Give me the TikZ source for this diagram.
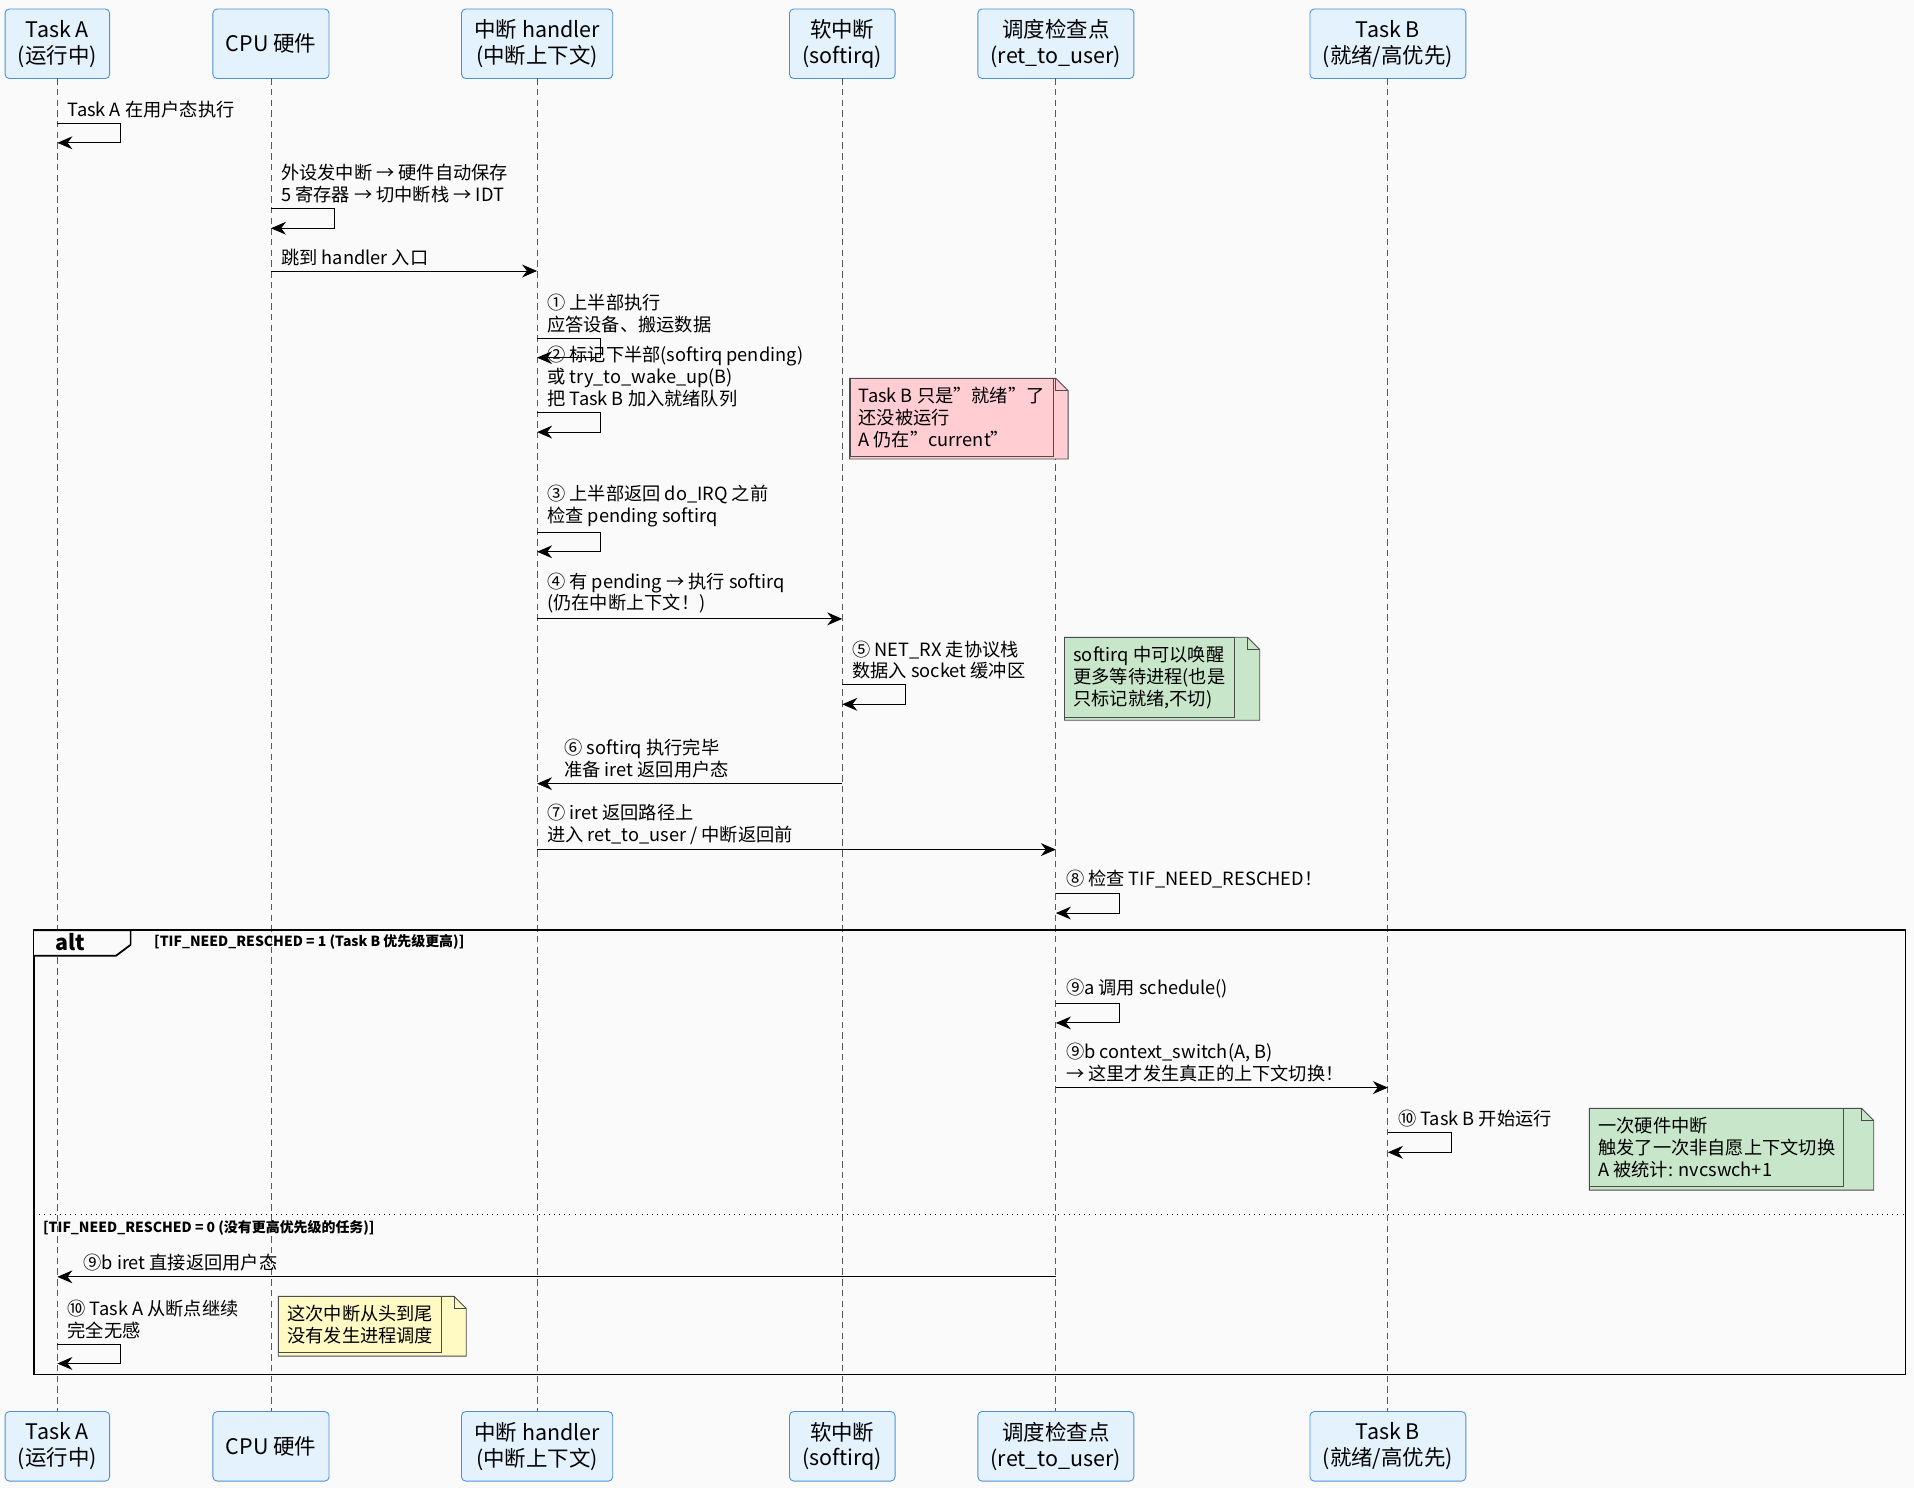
\documentclass[tikz,border=0pt]{standalone}
\usepackage{fontspec}
\setmainfont{Noto Sans CJK SC}
\usetikzlibrary{arrows.meta}
\usetikzlibrary{calc}
\usetikzlibrary{shapes.geometric}
\definecolor{bgc}{HTML}{FAFAFA}
\definecolor{boxc}{HTML}{E3F2FD}
\definecolor{boxd}{HTML}{4A90D9}
\definecolor{pinkn}{HTML}{FFCDD2}
\definecolor{greenn}{HTML}{C8E6C9}
\definecolor{yellown}{HTML}{FFF9C4}
\tikzset{
  part/.style={draw=boxd,fill=boxc,rounded corners=2pt,align=center,minimum height=57*0.02cm,inner xsep=6pt,font=\fontsize{10}{12}\selectfont},
  life/.style={dash pattern=on 3pt off 2pt,gray!70!black,thin},
  msg/.style={-{Stealth[length=7pt,width=6pt]},thin},
  lbl/.style={anchor=south west,inner sep=0pt,align=left},
  note/.style={draw=black!70,thin,anchor=north west,align=left,inner sep=4pt,
    font=\fontsize{8.5}{10.2}\selectfont},
  guard/.style={anchor=west,inner sep=0pt,font=\fontsize{6.5}{8}\selectfont\bfseries}
}
\newcommand*\selfmsg[2]{\draw[msg](#1|-0,#2)--++(52,0)--++(0,16)--++(-52,0);}
\newcommand*\notebox[6]{% name, x1, y1, x2, y2, colour
  \fill[#6](#2,#3)--(#4-10,#3)--(#4,#3+10)--(#4,#5)--(#2,#5)--cycle;
  \draw[black!70,thin](#2,#3)--(#4-10,#3)--(#4,#3+10)--(#4,#5)--(#2,#5)--cycle;
  \draw[black!70,thin](#4-10,#3)--(#4-10,#3+10)--(#4,#3+10);
  \coordinate(#1)at(#2,#3);}
\begin{document}
\begin{tikzpicture}[x=0.02cm,y=-0.02cm,font=\fontsize{8.5}{10.2}\selectfont]
  \fill[bgc](0,0)rectangle(1568,1219);
  \useasboundingbox(0,0)rectangle(1568,1219);
  % participants
  \foreach \n/\x/\t in {ta/47/{Task A\\(运行中)},cpu/222/{CPU 硬件},irq/440/{中断 handler\\(中断上下文)},
      sirq/690/{软中断\\(softirq)},chk/865/{调度检查点\\(ret\_to\_user)},tb/1137/{Task B\\(就绪/高优先)}}{
    \node[part,anchor=north](\n)at(\x,7){\t};
    \node[part,anchor=north](\n2)at(\x,1156){\t};
    \draw[life](\n|-0,64)--(\n2|-0,1156);
  }
  % messages
  \selfmsg{ta}{101}
  \node[lbl]at(55,97){Task A 在用户态执行};
  \selfmsg{cpu}{171}
  \node[lbl]at(230,167){外设发中断 → 硬件自动保存\\5 寄存器 → 切中断栈 → IDT};
  \draw[msg](cpu|-0,222)--(irq|-0,222);
  \node[lbl]at(230,218){跳到 handler 入口};
  \selfmsg{irq}{277}
  \node[lbl]at(448,273){① 上半部执行\\应答设备、搬运数据};
  \selfmsg{irq}{338}
  \node[lbl]at(448,334){② 标记下半部(softirq pending)\\或 try\_to\_wake\_up(B)\\把 Task B 加入就绪队列};
  \notebox{n1}{696}{310}{875}{376}{pinkn}
  \node[note]at(n1){Task B 只是"就绪"了\\还没被运行\\A 仍在"current"};
  \selfmsg{irq}{436}
  \node[lbl]at(448,432){③ 上半部返回 do\_IRQ 之前\\检查 pending softirq};
  \draw[msg](irq|-0,507)--(sirq|-0,507);
  \node[lbl]at(448,503){④ 有 pending → 执行 softirq\\(仍在中断上下文！)};
  \selfmsg{sirq}{561}
  \node[lbl]at(698,557){⑤ NET\_RX 走协议栈\\数据入 socket 缓冲区};
  \notebox{n2}{872}{522}{1032}{590}{greenn}
  \node[note]at(n2){softirq 中可以唤醒\\更多等待进程(也是\\只标记就绪,不切)};
  \draw[msg](sirq|-0,642)--(irq|-0,642);
  \node[lbl]at(462,638){⑥ softirq 执行完毕\\准备 iret 返回用户态};
  \draw[msg](irq|-0,696)--(chk|-0,696);
  \node[lbl]at(448,692){⑦ iret 返回路径上\\进入 ret\_to\_user / 中断返回前};
  \selfmsg{chk}{732}
  \node[lbl]at(873,728){⑧ 检查 TIF\_NEED\_RESCHED！};
  % alt frame
  \draw[thick](28,762)rectangle(1561,1126);
  \draw[thick,fill=bgc](28,762)--(107,762)--(107,774)--(95,783)--(28,783);
  \node[anchor=west,inner sep=0pt,font=\fontsize{10}{12}\selectfont\bfseries]at(45,772){alt};
  \node[guard]at(126,772){[TIF\_NEED\_RESCHED = 1 (Task B 优先级更高)]};
  \selfmsg{chk}{822}
  \node[lbl]at(873,818){⑨a 调用 schedule()};
  \draw[msg](chk|-0,891)--(tb|-0,891);
  \node[lbl]at(873,887){⑨b context\_switch(A, B)\\→ 这里才发生真正的上下文切换！};
  \selfmsg{tb}{928}
  \node[lbl]at(1145,924){⑩ Task B 开始运行};
  \notebox{n3}{1302}{908}{1535}{975}{greenn}
  \node[note]at(n3){一次硬件中断\\触发了一次非自愿上下文切换\\A 被统计: nvcswch+1};
  \draw[dotted,thin](28,995)--(1561,995);
  \node[guard]at(35,1006){[TIF\_NEED\_RESCHED = 0 (没有更高优先级的任务)]};
  \draw[msg](chk|-0,1046)--(ta|-0,1046);
  \node[lbl]at(68,1042){⑨b iret 直接返回用户态};
  \selfmsg{ta}{1101}
  \node[lbl]at(55,1097){⑩ Task A 从断点继续\\完全无感};
  \notebox{n4}{228}{1062}{382}{1111}{yellown}
  \node[note]at(n4){这次中断从头到尾\\没有发生进程调度};
\end{tikzpicture}
\end{document}
